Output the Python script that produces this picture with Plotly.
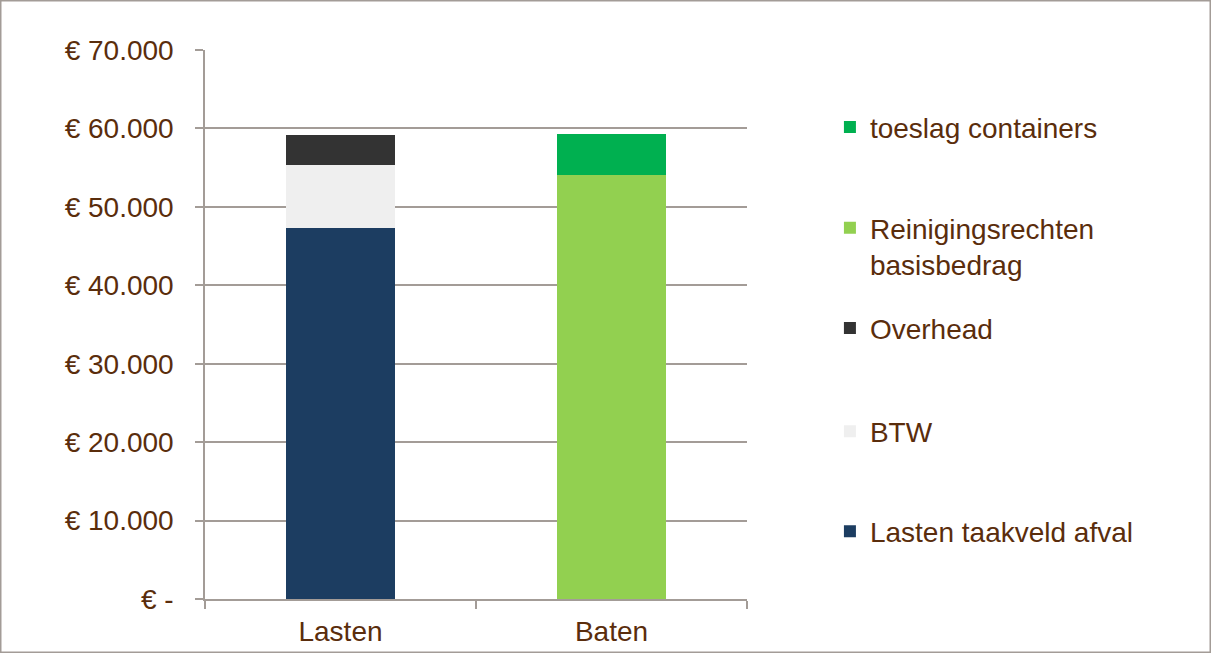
import plotly.graph_objects as go

categories = ["Lasten", "Baten"]

# series, bottom to top of the stacks
lasten_afval = [47300, None]
btw = [8050, None]
overhead = [3850, None]
reinigingsrechten = [None, 54050]
toeslag_containers = [None, 5200]

y_ticks = [0, 10000, 20000, 30000, 40000, 50000, 60000, 70000]
y_tick_labels = ["€ -", "€ 10.000", "€ 20.000", "€ 30.000", "€ 40.000",
                 "€ 50.000", "€ 60.000", "€ 70.000"]

txt = "#5A2D0C"
grey = "#A39C97"
fnt = "Liberation Sans, Arial, sans-serif"

fig = go.Figure()
series = [
    ("Lasten taakveld afval", lasten_afval, "#1C3D61", "legend5"),
    ("BTW", btw, "#EFEFEF", "legend4"),
    ("Overhead", overhead, "#333333", "legend3"),
    ("Reinigingsrechten<br>basisbedrag", reinigingsrechten, "#92D050", "legend2"),
    ("toeslag containers", toeslag_containers, "#00B050", "legend"),
]
for name, vals, col, lg in series:
    fig.add_trace(go.Bar(x=categories, y=vals, name=name, marker_color=col,
                         marker_line_width=0, legend=lg, showlegend=True))

def leg(y, anchor="middle"):
    return dict(x=1.153, xanchor="left", y=y, yanchor=anchor, valign="top",
                bgcolor="rgba(0,0,0,0)", font=dict(size=28, color=txt, family=fnt),
                itemclick=False, itemdoubleclick=False)

fig.update_layout(
    width=1211, height=653,
    margin=dict(l=205, r=464, t=50, b=54, autoexpand=False),
    paper_bgcolor="white", plot_bgcolor="white",
    barmode="stack", bargap=0.6, showlegend=True,
    font=dict(family=fnt, size=28, color=txt),
    legend=leg(0.859),
    legend2=leg(0.721, "top"),
    legend3=leg(0.493),
    legend4=leg(0.305),
    legend5=leg(0.123),
)
fig.update_yaxes(range=[0, 70000], tickvals=y_ticks, ticktext=y_tick_labels,
                 showgrid=True, gridcolor=grey, gridwidth=1.5,
                 showline=True, linecolor=grey, linewidth=1.5,
                 ticks="outside", ticklen=8, tickcolor=grey, tickwidth=1.5,
                 ticklabelstandoff=16, zeroline=False, automargin=False,
                 tickfont=dict(size=28, color=txt))
fig.update_xaxes(showline=True, linecolor=grey, linewidth=1.5,
                 ticks="outside", tickson="boundaries", ticklen=8,
                 tickcolor=grey, tickwidth=1.5, ticklabelstandoff=7,
                 automargin=False, tickfont=dict(size=28, color=txt))

# outer frame round the whole picture
fig.add_shape(type="rect", xref="paper", yref="paper",
              x0=-205 / 542, x1=1006 / 542, y0=-54 / 549, y1=599 / 549,
              line=dict(color=grey, width=3))

fig.write_html("out.html", config={"displayModeBar": False},
               post_script="document.body.style.margin='0px';")
